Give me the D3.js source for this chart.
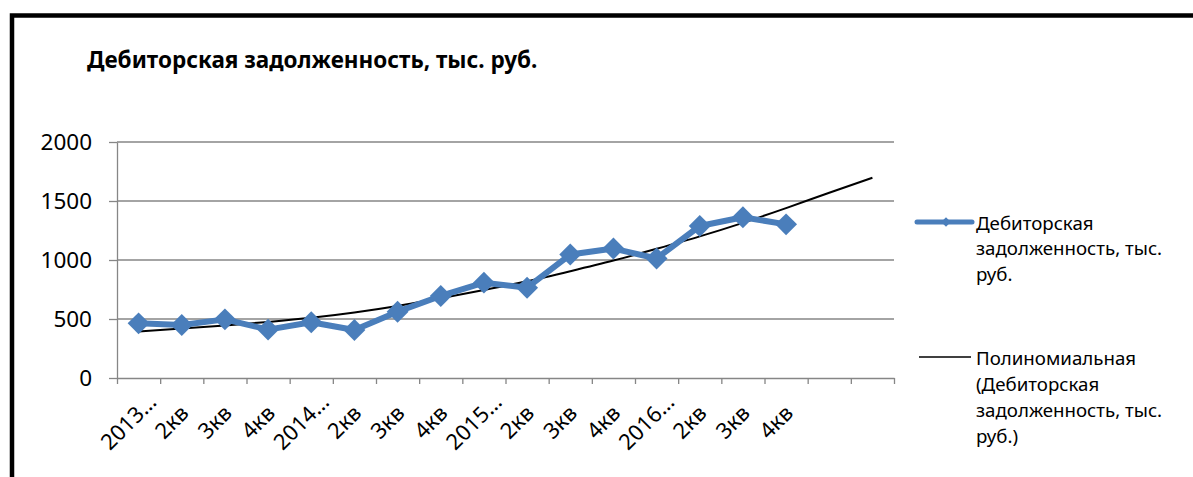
<!DOCTYPE html>
<html>
<head>
<meta charset="utf-8">
<script src="https://cdn.jsdelivr.net/npm/d3@7"></script>
<style>
  body { margin: 0; background: #fff; }
  svg { display: block; font-family: "Noto Sans", "Open Sans", sans-serif; }
  .axis path, .axis line { stroke: #868686; stroke-width: 1.3; }
  .axis text { fill: #000; }
  .grid line { stroke: #868686; stroke-width: 1.3; }
</style>
</head>
<body>
<div id="chart"></div>
<script>
// ---- data ----
const categories = ['2013…', '2кв', '3кв', '4кв', '2014…', '2кв', '3кв', '4кв',
                    '2015…', '2кв', '3кв', '4кв', '2016…', '2кв', '3кв', '4кв', '', ''];
const debt = [463, 449, 497, 410, 472, 407, 562, 695, 808, 765, 1046, 1097, 1013, 1288, 1362, 1302];
const trend = [395, 420, 445, 475, 510, 555, 610, 675, 745, 820, 905, 995, 1095, 1200, 1315, 1440, 1570, 1697];
const yTicks = [0, 500, 1000, 1500, 2000];
const title = 'Дебиторская задолженность, тыс. руб.';
const legendDebt = ['Дебиторская', 'задолженность, тыс.', 'руб.'];
const legendTrend = ['Полиномиальная', '(Дебиторская', 'задолженность, тыс.', 'руб.)'];

const W = 1193, H = 477;
const plot = { left: 117, right: 894, top: 142, bottom: 378 };
const blue = '#4A7EBB';

const svg = d3.select('#chart').append('svg')
    .attr('width', W)
    .attr('height', H);

// frame
svg.append('rect')
    .attr('x', 12).attr('y', 15.5)
    .attr('width', W + 40).attr('height', H + 40)
    .attr('fill', 'none')
    .attr('stroke', '#000')
    .attr('stroke-width', 4.5);

// title
svg.append('text')
    .attr('x', 87).attr('y', 68)
    .attr('font-size', 22.5)
    .attr('font-weight', 'bold')
    .text(title);

// --- scales ---
const idx = d3.range(categories.length);
const x = d3.scaleBand().domain(idx).range([plot.left, plot.right]);
const xEdge = d3.scaleLinear().domain([0, categories.length]).range([plot.left, plot.right]);
const y = d3.scaleLinear().domain([0, 2000]).range([plot.bottom, plot.top]);
const cx = i => x(i) + x.bandwidth() / 2;

// gridlines
svg.append('g').attr('class', 'grid')
    .selectAll('line')
    .data(yTicks.slice(1))
    .enter().append('line')
    .attr('x1', plot.left).attr('x2', plot.right)
    .attr('y1', d => y(d)).attr('y2', d => y(d));

// y axis
svg.append('g')
    .attr('class', 'axis')
    .attr('transform', `translate(${plot.left},0)`)
    .call(d3.axisLeft(y).tickValues(yTicks).tickFormat(d3.format('d'))
        .tickSize(8).tickSizeOuter(0).tickPadding(17))
    .call(g => g.selectAll('text').attr('font-size', 22.5).attr('font-family', '"Noto Sans", sans-serif'));

// x axis line + boundary ticks
svg.append('g')
    .attr('class', 'axis')
    .attr('transform', `translate(0,${plot.bottom})`)
    .call(d3.axisBottom(xEdge).tickValues(d3.range(categories.length + 1))
        .tickSize(6).tickSizeOuter(0).tickFormat(''));

// x labels, rotated 45°
svg.append('g')
    .attr('font-size', 22)
    .selectAll('text')
    .data(idx)
    .enter().append('text')
    .attr('text-anchor', 'middle')
    .attr('dominant-baseline', 'central')
    .attr('transform', i => `translate(${cx(i) - 11},${plot.bottom + 43}) rotate(-45)`)
    .text(i => categories[i]);

// trendline
const trendLine = d3.line()
    .x((d, i) => cx(i))
    .y(d => y(d))
    .curve(d3.curveMonotoneX);

svg.append('path')
    .datum(trend)
    .attr('d', trendLine)
    .attr('fill', 'none')
    .attr('stroke', '#000')
    .attr('stroke-width', 2);

// series line
const debtLine = d3.line()
    .x((d, i) => cx(i))
    .y(d => y(d));

svg.append('path')
    .datum(debt)
    .attr('d', debtLine)
    .attr('fill', 'none')
    .attr('stroke', blue)
    .attr('stroke-width', 6)
    .attr('stroke-linejoin', 'round');

// diamond markers
const diamond = d3.symbol().type(d3.symbolSquare).size(240);
svg.selectAll('.mark')
    .data(debt)
    .enter().append('path')
    .attr('class', 'mark')
    .attr('d', diamond)
    .attr('fill', blue)
    .attr('transform', (d, i) => `translate(${cx(i)},${y(d)}) rotate(45)`);

// --- legend ---
const lg = svg.append('g').attr('font-size', 18.7);

lg.append('line')
    .attr('x1', 917).attr('x2', 972)
    .attr('y1', 222).attr('y2', 222)
    .attr('stroke', blue).attr('stroke-width', 5).attr('stroke-linecap', 'round');
lg.append('path')
    .attr('d', d3.symbol().type(d3.symbolSquare).size(45))
    .attr('fill', blue)
    .attr('transform', 'translate(946,222) rotate(45)');

lg.selectAll('.l1')
    .data(legendDebt)
    .enter().append('text')
    .attr('class', 'l1')
    .attr('x', 976)
    .attr('y', (d, i) => 222 + i * 25.5)
    .attr('dominant-baseline', 'central')
    .text(d => d);

lg.append('line')
    .attr('x1', 919).attr('x2', 971)
    .attr('y1', 357).attr('y2', 357)
    .attr('stroke', '#000').attr('stroke-width', 1.6);

lg.selectAll('.l2')
    .data(legendTrend)
    .enter().append('text')
    .attr('class', 'l2')
    .attr('x', 976)
    .attr('y', (d, i) => 357 + i * 26)
    .attr('dominant-baseline', 'central')
    .text(d => d);
</script>
</body>
</html>
